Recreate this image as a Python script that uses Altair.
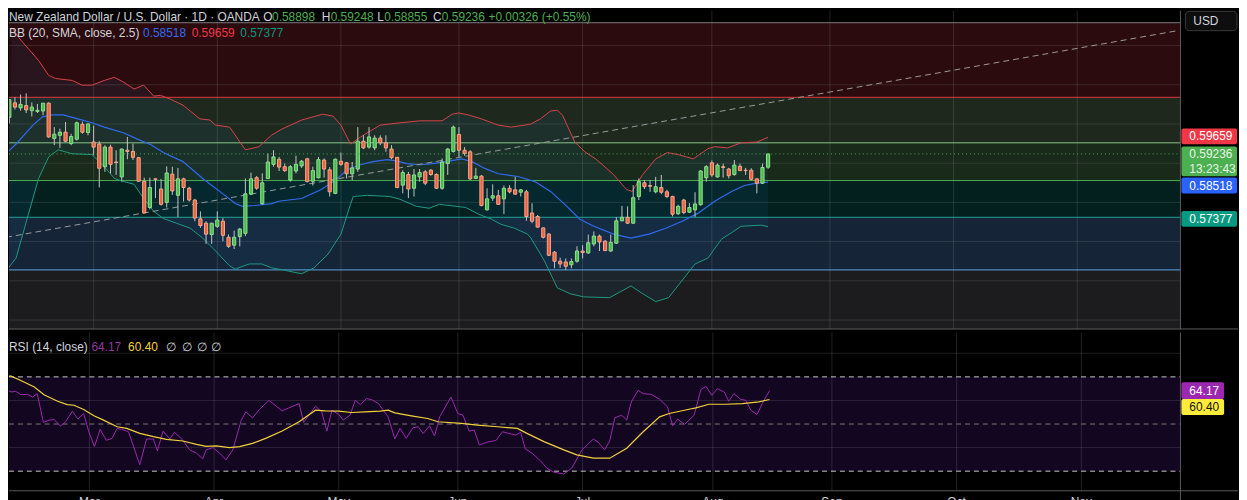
import altair as alt
import pandas as pd

# ---------------- values ----------------
opens = [0.6017,0.6054,0.6041,0.6047,0.6034,0.6032,0.6033,0.6053,0.5963,0.5971,
         0.5979,0.5950,0.5961,0.5999,0.5978,0.5954,0.5949,0.5891,0.5941,0.5903,
         0.5865,0.5933,0.5930,0.5914,0.5854,0.5787,0.5860,0.5834,0.5800,0.5872,
         0.5818,0.5860,0.5836,0.5806,0.5758,0.5747,0.5718,0.5739,0.5752,0.5711,
         0.5691,0.5713,0.5721,0.5821,0.5863,0.5797,0.5861,0.5897,0.5910,0.5891,
         0.5857,0.5880,0.5893,0.5911,0.5854,0.5863,0.5908,0.5883,0.5823,0.5905,
         0.5901,0.5873,0.5885,0.5956,0.5941,0.5939,0.5964,0.5952,0.5936,0.5915,
         0.5844,0.5871,0.5836,0.5865,0.5878,0.5882,0.5871,0.5836,0.5899,0.5930,
         0.5973,0.5933,0.5929,0.5861,0.5867,0.5781,0.5811,0.5817,0.5809,0.5836,
         0.5832,0.5826,0.5827,0.5773,0.5764,0.5735,0.5719,0.5673,0.5650,0.5648,
         0.5641,0.5650,0.5676,0.5671,0.5694,0.5714,0.5701,0.5676,0.5696,0.5753,
         0.5762,0.5747,0.5815,0.5850,0.5843,0.5827,0.5838,0.5827,0.5815,0.5771,
         0.5806,0.5775,0.5781,0.5794,0.5863,0.5901,0.5865,0.5891,0.5885,0.5871,
         0.5892,0.5882,0.5882,0.5860,0.5849,0.58898]
highs = [0.6062,0.6068,0.6075,0.6078,0.6055,0.6051,0.6053,0.6055,0.5992,0.5988,
         0.6005,0.5975,0.6006,0.6006,0.6002,0.5996,0.5956,0.5946,0.5947,0.5933,
         0.5937,0.5967,0.5950,0.5916,0.5863,0.5863,0.5861,0.5860,0.5892,0.5891,
         0.5888,0.5863,0.5840,0.5809,0.5777,0.5752,0.5747,0.5777,0.5760,0.5718,
         0.5728,0.5735,0.5861,0.5876,0.5867,0.5874,0.5925,0.5933,0.5916,0.5899,
         0.5895,0.5919,0.5908,0.5914,0.5891,0.5916,0.5912,0.5890,0.5912,0.5927,
         0.5903,0.5903,0.5992,0.5971,0.5992,0.5971,0.5971,0.5971,0.5946,0.5916,
         0.5882,0.5878,0.5885,0.5885,0.5882,0.5885,0.5874,0.5912,0.5939,0.5996,
         0.5992,0.5941,0.5933,0.5888,0.5870,0.5836,0.5846,0.5832,0.5843,0.5844,
         0.5865,0.5834,0.5832,0.5798,0.5768,0.5736,0.5722,0.5676,0.5659,0.5657,
         0.5657,0.5688,0.5691,0.5718,0.5726,0.5718,0.5704,0.5718,0.5762,0.5791,
         0.5790,0.5844,0.5861,0.5857,0.5857,0.5865,0.5870,0.5832,0.5817,0.5794,
         0.5809,0.5798,0.5826,0.5882,0.5895,0.5907,0.5899,0.5899,0.5888,0.5908,
         0.5899,0.5888,0.5887,0.5861,0.5899,0.59248]
lows = [0.6001,0.6037,0.6034,0.6028,0.6019,0.6028,0.6022,0.5965,0.5946,0.5939,
        0.5954,0.5946,0.5958,0.5975,0.5971,0.5920,0.5838,0.5878,0.5874,0.5870,
        0.5853,0.5910,0.5908,0.5853,0.5772,0.5782,0.5811,0.5792,0.5787,0.5819,
        0.5762,0.5802,0.5802,0.5752,0.5735,0.5694,0.5694,0.5735,0.5701,0.5684,
        0.5681,0.5688,0.5714,0.5819,0.5832,0.5794,0.5860,0.5891,0.5880,0.5878,
        0.5853,0.5874,0.5888,0.5851,0.5843,0.5861,0.5863,0.5815,0.5821,0.5893,
        0.5861,0.5857,0.5878,0.5936,0.5937,0.5933,0.5946,0.5929,0.5910,0.5836,
        0.5823,0.5811,0.5815,0.5853,0.5844,0.5868,0.5834,0.5832,0.5870,0.5927,
        0.5916,0.5919,0.5857,0.5860,0.5790,0.5779,0.5804,0.5794,0.5770,0.5823,
        0.5819,0.5815,0.5753,0.5747,0.5735,0.5708,0.5663,0.5632,0.5633,0.5628,
        0.5632,0.5646,0.5657,0.5669,0.5688,0.5676,0.5676,0.5674,0.5694,0.5752,
        0.5745,0.5746,0.5806,0.5834,0.5827,0.5823,0.5821,0.5811,0.5764,0.5768,
        0.5770,0.5773,0.5763,0.5792,0.5853,0.5865,0.5863,0.5863,0.5861,0.5868,
        0.5880,0.5870,0.5856,0.5823,0.5847,0.58855]
closes = [0.6062,0.6043,0.6050,0.6036,0.6043,0.6035,0.6053,0.5967,0.5974,0.5979,
          0.5956,0.5968,0.6003,0.5979,0.6000,0.5941,0.5887,0.5941,0.5897,0.5902,
          0.5936,0.5930,0.5915,0.5854,0.5773,0.5838,0.5859,0.5795,0.5875,0.5829,
          0.5860,0.5838,0.5806,0.5760,0.5741,0.5719,0.5747,0.5755,0.5716,0.5688,
          0.5711,0.5732,0.5822,0.5860,0.5836,0.5850,0.5903,0.5916,0.5890,0.5881,
          0.5891,0.5897,0.5905,0.5853,0.5881,0.5909,0.5885,0.5827,0.5910,0.5897,
          0.5873,0.5888,0.5956,0.5939,0.5967,0.5964,0.5952,0.5939,0.5914,0.5838,
          0.5876,0.5834,0.5870,0.5876,0.5849,0.5871,0.5836,0.5903,0.5936,0.5992,
          0.5933,0.5925,0.5860,0.5867,0.5792,0.5809,0.5817,0.5795,0.5836,0.5827,
          0.5821,0.5832,0.5764,0.5752,0.5737,0.5711,0.5665,0.5650,0.5643,0.5637,
          0.5649,0.5676,0.5672,0.5697,0.5714,0.5699,0.5677,0.5698,0.5753,0.5762,
          0.5747,0.5812,0.5853,0.5840,0.5841,0.5840,0.5826,0.5815,0.5770,0.5790,
          0.5774,0.5787,0.5796,0.5880,0.5891,0.5870,0.5895,0.5889,0.5868,0.5895,
          0.5881,0.5881,0.5859,0.5849,0.5889,0.59236]

bb_upper = [(0.5,0.6245),(1.7,0.6220),(2.4,0.6208),(5.2,0.6162),(7.0,0.6124),(8.2,0.6116),(11.2,0.6111),
            (12.9,0.6099),(14.7,0.6099),(16.9,0.6111),(18.7,0.6119),(20.4,0.6106),(22.2,0.6089),
            (23.9,0.6099),(25.7,0.6071),(26.9,0.6073),(28.7,0.6063),(30.9,0.6048),(33.9,0.6013),
            (35.7,0.6010),(36.7,0.5997),(39.2,0.5992),(42.0,0.5934),(44.4,0.5942),(46.7,0.5972),
            (48.5,0.5987),(52.0,0.6010),(55.8,0.6025),(57.6,0.6020),(59.0,0.5997),(60.7,0.5949),
            (62.5,0.5967),(64.2,0.5982),(66.0,0.5997),(69.5,0.6003),(73.0,0.6008),(77.0,0.6008),
            (78.8,0.6025),(80.0,0.6028),(81.7,0.6023),(84.0,0.6013),(87.0,0.5997),(89.3,0.5992),
            (91.7,0.5997),(92.8,0.6000),(94.5,0.6013),(96.3,0.6033),(97.5,0.6035),(98.4,0.6023),
            (100.6,0.5954),(102.4,0.5929),(104.5,0.5909),(107.5,0.5871),(109.8,0.5833),(110.8,0.5828),
            (112.7,0.5871),(115.0,0.5911),(117.1,0.5927),(119.0,0.5922),(121.7,0.5911),(124.3,0.5937),
            (125.5,0.5942),(127.8,0.5939),(130.2,0.5952),(133.0,0.5954),(135.0,0.59659)]
bb_basis = [(-0.6,0.5924),(1.2,0.5949),(4.2,0.5997),(5.9,0.6018),(7.7,0.6023),(9.6,0.6023),(12.2,0.6013),
            (14.7,0.6003),(16.9,0.5992),(20.4,0.5977),(22.7,0.5962),(25.2,0.5947),(27.4,0.5927),
            (30.9,0.5904),(34.4,0.5861),(37.9,0.5823),(40.2,0.5797),(41.5,0.5790),(43.7,0.5792),
            (46.7,0.5797),(47.9,0.5803),(52.0,0.5810),(55.5,0.5833),(57.7,0.5853),(60.2,0.5884),
            (62.5,0.5896),(64.7,0.5904),(67.2,0.5909),(68.9,0.5906),(70.7,0.5899),(73.0,0.5896),
            (75.3,0.5899),(77.7,0.5904),(80.5,0.5911),(82.3,0.5904),(84.7,0.5886),(87.0,0.5873),
            (90.5,0.5866),(93.5,0.5853),(96.3,0.5828),(99.2,0.5790),(101.5,0.5757),(104.0,0.5739),
            (107.5,0.5719),(110.6,0.5709),(113.8,0.5719),(116.8,0.5734),(119.7,0.5752),(122.5,0.5772),
            (125.5,0.5803),(128.5,0.5828),(130.8,0.5843),(132.5,0.5848),(135.0,0.58518)]
bb_lower = [(-0.6,0.5625),(1.2,0.5658),(3.4,0.5770),(5.2,0.5861),(7.0,0.5916),(8.7,0.5934),(11.2,0.5924),
            (14.7,0.5922),(16.9,0.5891),(18.7,0.5861),(20.4,0.5853),(22.2,0.5846),(23.9,0.5810),
            (25.7,0.5777),(27.4,0.5759),(29.7,0.5747),(32.2,0.5734),(34.4,0.5709),(36.7,0.5676),
            (39.2,0.5638),(40.2,0.5630),(42.7,0.5643),(44.9,0.5643),(46.7,0.5633),(47.9,0.5630),
            (52.0,0.5618),(54.2,0.5633),(56.7,0.5668),(59.0,0.5719),(60.7,0.5795),(61.2,0.5815),
            (63.7,0.5818),(67.7,0.5815),(69.5,0.5808),(72.4,0.5790),(74.7,0.5785),(76.5,0.5795),
            (79.5,0.5790),(81.2,0.5787),(83.5,0.5770),(85.8,0.5757),(87.5,0.5744),(89.9,0.5734),
            (92.2,0.5719),(92.8,0.5709),(95.2,0.5651),(97.5,0.5582),(99.8,0.5567),(102.2,0.5559),
            (106.8,0.5557),(110.6,0.5587),(112.7,0.5567),(115.0,0.5547),(117.3,0.5557),(122.0,0.5643),
            (124.3,0.5658),(126.7,0.5706),(130.2,0.5739),(133.8,0.5742),(135.0,0.57377)]

rsi_line = [(-0.6,64.98),(0,65.26),(1.2,63.58),(2,63.86),(2.9,62.45),(4.1,62.6),(5,61.47),(5.8,62.9),
            (6.9,50.67),(7.9,51.65),(8.8,51.93),(9.9,49.12),(10.8,50.95),(12,55.44),(13,52.07),
            (14,54.45),(14.9,46.74),(15.9,40.42),(16.9,47.72),(18,43.09),(19,43.93),(19.9,48.14),
            (20.7,47.72),(21.9,46.74),(23.9,32.7),(25.1,43.65),(26.3,43.65),(27,38.6),(28,47.0),
            (29.2,43.65),(30,46.45),(31.2,43.93),(32.7,39.02),(33.9,37.61),(35,35.23),(35.6,39.02),
            (36.8,40.0),(38,37.61),(39.1,34.8),(40.3,39.02),(41.8,51.65),(42.6,55.16),(43.8,52.63),
            (45,56.14),(46.7,60.07),(47.9,57.68),(49,55.58),(50.2,56.84),(52,58.67),(52.8,50.67),
            (54.9,57.54),(56,55.16),(56.9,47.0),(57.8,55.86),(59,54.03),(59.8,51.65),(61,53.75),
            (61.9,60.07),(62.8,58.24),(63.9,60.77),(64.8,60.35),(66,58.67),(67.7,53.05),(68.9,43.65),
            (69.8,48.14),(70.9,43.93),(72.1,48.42),(73,48.84),(73.9,46.0),(75,49.26),(75.9,44.91),
            (76.8,53.05),(78.8,61.47),(80,54.45),(80.9,53.75),(82,47.0),(82.9,47.44),(83.8,41.12),
            (85.5,42.53),(86.7,42.95),(87.9,46.74),(89,46.0),(90.2,45.33),(91.1,46.45),(91.9,39.44),
            (93.1,37.61),(94.6,34.39),(95.7,31.3),(96.9,29.61),(98.7,28.77),(100.1,31.3),(101.9,39.02),
            (103.9,43.65),(104.8,42.25),(105.9,39.02),(106.8,42.81),(107.7,52.63),(108.9,53.75),
            (109.8,51.65),(110.6,59.37),(111.8,64.28),(112.7,62.88),(114.1,62.6),(115.6,60.49),
            (117,57.26),(117.9,49.26),(118.8,52.07),(120,49.82),(121.7,53.75),(122.9,64.7),
            (123.8,65.96),(124.8,62.18),(125.8,64.98),(127,63.58),(127.8,59.65),(128.7,62.88),
            (129.9,60.49),(130.8,60.07),(131.7,55.86),(132.8,54.03),(133.7,58.67),(135,64.17)]
rsi_ma = [(-0.6,70.31),(1.2,70.31),(2.9,68.49),(5.3,65.68),(7,62.45),(9.4,59.65),(11.1,58.24),
          (12.3,57.96),(14,56.14),(15.8,53.47),(17.5,51.65),(19.9,48.84),(21.6,48.14),(23.9,46.03),
          (26.3,44.63),(28.6,43.51),(31.5,42.81),(33.9,41.4),(35.6,40.56),(37.4,40.7),(39.7,40.0),
          (41.5,40.42),(43.8,41.82),(46.1,43.93),(49,47.02),(52,50.95),(54.9,55.86),(56.6,55.58),
          (59,55.44),(61.3,54.88),(63.6,55.16),(66.3,55.5),(67.7,55.86),(68.9,54.74),(71.8,53.47),
          (74.7,52.35),(76.5,50.95),(80.6,50.25),(83.5,49.54),(87,48.84),(90.5,48.14),(92.2,46.03),
          (95.2,42.53),(98.7,39.02),(101,36.91),(103.9,35.51),(106.8,35.51),(109.8,39.72),
          (112.7,46.74),(115.6,53.05),(117.3,54.45),(120.8,56.28),(122,56.84),(124.3,58.39),
          (127.3,58.39),(130.2,58.67),(133.1,59.37),(135,60.4)]

trend_line = [(-0.58, 0.5711), (207.5, 0.6237)]
zone_edges = [0.62582, 0.6068, 0.59519, 0.58557, 0.5762, 0.56278]
price_grid = [0.62, 0.61, 0.60, 0.59, 0.58, 0.57, 0.56, 0.55]
price_labels = [0.62, 0.61, 0.60, 0.58, 0.57, 0.56, 0.55]
month_idx = [15, 37, 59, 80, 102, 125, 146, 168, 190]
month_names = ["Mar", "Apr", "May", "Jun", "Jul", "Aug", "Sep", "Oct", "Nov"]
rsi_grid = [80, 60, 40]
rsi_axis_labels = [80, 40]
rsi_levels = [70, 50, 30]

last_ohlc = [0.58898, 0.59248, 0.58855, 0.59236]
last_change = "+0.00326 (+0.55%)"
countdown = "13:23:43"
bb_last = [0.58518, 0.59659, 0.57377]   # basis, upper, lower
rsi_last = [64.17, 60.40]

# ---------------- layout & style ----------------
FONT = "Liberation Sans"
W, H1, H2 = 1180, 321, 170
X_DOM = [0.823, 207.48]
P_DOM = [0.547595, 0.628861]
R_DOM = [17.263, 88.842]
TXT = "#d1d4dc"
GREEN = "#4caf50"
LINE = "#5a5a5a"

xs = alt.Scale(domain=X_DOM, nice=False, zero=False)
ps = alt.Scale(domain=P_DOM, nice=False, zero=False)
rs = alt.Scale(domain=R_DOM, nice=False, zero=False)


def X(f):
    return alt.X(f"{f}:Q", scale=xs, axis=None)


def YP(f, axis=None):
    return alt.Y(f"{f}:Q", scale=ps, axis=axis)


def YR(f, axis=None):
    return alt.Y(f"{f}:Q", scale=rs, axis=axis)


def pairs_df(p):
    return pd.DataFrame({"i": [a for a, _ in p], "v": [b for _, b in p]})


def text_layer(x, y, s, color, size=12):
    return alt.Chart(pd.DataFrame({"s": [s]})).mark_text(
        align="left", baseline="middle", color=color, fontSize=size, font=FONT
    ).encode(x=alt.value(x), y=alt.value(y), text="s:N")


def tag(yfn, value, lines, bg, fg, shift, top, bottom, width):
    df = pd.DataFrame({"v": [value]})
    layers = [alt.Chart(df).mark_rect(color=bg, cornerRadius=2, yOffset=shift - top,
                                      y2Offset=shift + bottom).encode(
        x=alt.value(W + 1), x2=alt.value(W + 1 + width), y=yfn("v"), y2=alt.Y2("v:Q"))]
    for k, s in enumerate(lines):
        layers.append(alt.Chart(pd.DataFrame({"v": [value], "s": [s]})).mark_text(
            align="left", baseline="middle", color=fg, fontSize=12, font=FONT,
            dy=shift + 14.5 * k).encode(x=alt.value(W + 9), y=yfn("v"), text="s:N"))
    return layers


# ---------------- price pane ----------------
cdf = pd.DataFrame({"i": list(range(len(opens))), "o": opens, "h": highs,
                    "l": lows, "c": closes})
cdf["dir"] = ["up" if c >= o else "down" for o, c in zip(opens, closes)]

zone_cols = ["#2b0b0e", "#1e281d", "#19291a", "#03201f", "#152436", "#1c1c1e"]
zdf = pd.DataFrame({"hi": zone_edges, "lo": zone_edges[1:] + [P_DOM[0]], "col": zone_cols})
zones = alt.Chart(zdf).mark_rect().encode(
    x=alt.value(0), x2=alt.value(W), y=YP("hi"), y2=alt.Y2("lo:Q"),
    color=alt.Color("col:N", scale=None))

fill_pts = bb_upper + list(reversed(bb_lower))
fdf = pd.DataFrame({"k": list(range(len(fill_pts))), "i": [a for a, _ in fill_pts],
                    "v": [b for _, b in fill_pts]})
bb_fill = alt.Chart(fdf).mark_line(filled=True, color="#2196f3", opacity=0.07,
                                   clip=True, strokeWidth=0).encode(
    x=X("i"), y=YP("v"), order=alt.Order("k:Q"))

grid_h = alt.Chart(pd.DataFrame({"t": price_grid})).mark_rule(
    color="#9a9a9a", opacity=0.2).encode(
    x=alt.value(0), x2=alt.value(W),
    y=YP("t", axis=alt.Axis(orient="right", values=price_labels, format=".5f", grid=False,
                            domain=False, ticks=False, labelPadding=9, labelColor=TXT,
                            labelFontSize=12, labelFont=FONT, title=None)))
grid_v = alt.Chart(pd.DataFrame({"m": month_idx})).mark_rule(
    color="#9a9a9a", opacity=0.22).encode(x=X("m"), y=alt.value(0), y2=alt.value(H1))

zl_cols = ["#7a7a7a", "#e03a3e", "#8bc98b", "#4caf50", "#22a39a", "#5aa6e8"]
zlines = alt.Chart(pd.DataFrame({"v": zone_edges, "col": zl_cols})).mark_rule(
    strokeWidth=1).encode(x=alt.value(0), x2=alt.value(W), y=YP("v"),
                          color=alt.Color("col:N", scale=None))

bb_u = alt.Chart(pairs_df(bb_upper)).mark_line(color="#d9444a", strokeWidth=1, clip=True).encode(
    x=X("i"), y=YP("v"))
bb_m = alt.Chart(pairs_df(bb_basis)).mark_line(color="#2f6bf0", strokeWidth=1.2, clip=True).encode(
    x=X("i"), y=YP("v"))
bb_l = alt.Chart(pairs_df(bb_lower)).mark_line(color="#1f9a82", strokeWidth=1, clip=True).encode(
    x=X("i"), y=YP("v"))
trend = alt.Chart(pairs_df(trend_line)).mark_line(color="#9a9a9a", strokeDash=[6, 4],
                                                  strokeWidth=1, clip=True).encode(
    x=X("i"), y=YP("v"))

wicks = alt.Chart(cdf).mark_rule(color="#c4c4c4", strokeWidth=1, clip=True).encode(
    x=X("i"), y=YP("l"), y2=alt.Y2("h:Q"))
bodies = alt.Chart(cdf).mark_bar(size=3.2, strokeWidth=1, clip=True).encode(
    x=X("i"), y=YP("o"), y2=alt.Y2("c:Q"),
    fill=alt.Fill("dir:N", scale=alt.Scale(domain=["up", "down"], range=["#4cbb50", "#ee6440"]),
                  legend=None),
    stroke=alt.Stroke("dir:N", scale=alt.Scale(domain=["up", "down"], range=["#8fe08f", "#f7a58c"]),
                      legend=None))

close_line = alt.Chart(pd.DataFrame({"v": [last_ohlc[3]]})).mark_rule(
    color=GREEN, strokeDash=[1, 3]).encode(x=alt.value(0), x2=alt.value(W), y=YP("v"))

sep_right1 = alt.Chart(pd.DataFrame({"a": [0]})).mark_rule(color=LINE).encode(
    x=alt.value(W), y=alt.value(0), y2=alt.value(H1))
sep_bottom1 = alt.Chart(pd.DataFrame({"a": [0]})).mark_rule(color=LINE).encode(
    x=alt.value(0), x2=alt.value(W + 58), y=alt.value(H1 - 0.5))
usd_box = alt.Chart(pd.DataFrame({"a": [0]})).mark_rect(
    fill="#0e0e0e", stroke="#3a3a3a", cornerRadius=4).encode(
    x=alt.value(W + 5), x2=alt.value(W + 57), y=alt.value(0.5), y2=alt.value(20))

head = [
    text_layer(0, 6, "New Zealand Dollar / U.S. Dollar · 1D · OANDA", TXT),
    text_layer(256, 6, "O", TXT), text_layer(265, 6, f"{last_ohlc[0]:.5f}", GREEN),
    text_layer(315, 6, "H", TXT), text_layer(324, 6, f"{last_ohlc[1]:.5f}", GREEN),
    text_layer(371, 6, "L", TXT), text_layer(378, 6, f"{last_ohlc[2]:.5f}", GREEN),
    text_layer(427, 6, "C", TXT), text_layer(436, 6, f"{last_ohlc[3]:.5f}", GREEN),
    text_layer(483, 6, last_change, GREEN),
    text_layer(0, 22, "BB (20, SMA, close, 2.5)", TXT),
    text_layer(135, 22, f"{bb_last[0]:.5f}", "#2f6bf0"),
    text_layer(184, 22, f"{bb_last[1]:.5f}", "#f23645"),
    text_layer(233, 22, f"{bb_last[2]:.5f}", "#089981"),
    text_layer(W + 13, 10, "USD", TXT),
]

tags1 = (tag(YP, bb_last[1], [f"{bb_last[1]:.5f}"], "#f23645", "#ffffff", -1, 8, 8, 56)
         + tag(YP, last_ohlc[3], [f"{last_ohlc[3]:.5f}", countdown], GREEN, "#e8f5e9", 0.5, 8, 22, 56)
         + tag(YP, bb_last[0], [f"{bb_last[0]:.5f}"], "#2962ff", "#ffffff", 3.5, 8, 8, 56)
         + tag(YP, bb_last[2], [f"{bb_last[2]:.5f}"], "#089981", "#ffffff", -8, 8, 8, 56))

price = alt.layer(zones, bb_fill, grid_h, grid_v, zlines, bb_u, bb_m, bb_l, trend,
                  wicks, bodies, close_line, sep_right1, sep_bottom1, usd_box,
                  *head, *tags1).properties(width=W, height=H1)

# ---------------- RSI pane ----------------
band = alt.Chart(pd.DataFrame({"hi": [rsi_levels[0]], "lo": [rsi_levels[2]]})).mark_rect(
    color="#130620").encode(x=alt.value(0), x2=alt.value(W), y=YR("hi"), y2=alt.Y2("lo:Q"))
rgrid = alt.Chart(pd.DataFrame({"t": rsi_grid})).mark_rule(color="#9a9a9a", opacity=0.2).encode(
    x=alt.value(0), x2=alt.value(W),
    y=YR("t", axis=alt.Axis(orient="right", values=rsi_axis_labels, format=".2f", grid=False,
                            domain=False, ticks=False, labelPadding=9, labelColor=TXT,
                            labelFontSize=12, labelFont=FONT, title=None)))
rgrid_v = alt.Chart(pd.DataFrame({"m": month_idx})).mark_rule(color="#9a9a9a", opacity=0.22).encode(
    x=X("m"), y=alt.value(0), y2=alt.value(159))
lvl_df = pd.DataFrame({"v": rsi_levels, "col": ["#c8c8c8", "#7a7a7a", "#c8c8c8"]})
levels = alt.Chart(lvl_df).mark_rule(strokeDash=[5, 4], strokeWidth=1).encode(
    x=alt.value(0), x2=alt.value(W), y=YR("v"), color=alt.Color("col:N", scale=None))
rsi_l = alt.Chart(pairs_df(rsi_line)).mark_line(color="#9c27b0", strokeWidth=1, clip=True).encode(
    x=X("i"), y=YR("v"))
rsi_m = alt.Chart(pairs_df(rsi_ma)).mark_line(color="#f2d03b", strokeWidth=1.2, clip=True).encode(
    x=X("i"), y=YR("v"))
sep_right2 = alt.Chart(pd.DataFrame({"a": [0]})).mark_rule(color=LINE).encode(
    x=alt.value(W), y=alt.value(0), y2=alt.value(H2))
sep_bottom2 = alt.Chart(pd.DataFrame({"a": [0]})).mark_rule(color=LINE).encode(
    x=alt.value(0), x2=alt.value(W + 58), y=alt.value(159.5))
months = alt.Chart(pd.DataFrame({"m": month_idx, "name": month_names})).mark_text(
    align="center", baseline="top", color=TXT, fontSize=12, font=FONT, clip=True).encode(
    x=X("m"), y=alt.value(166), text="name:N")

rhead = [text_layer(0, 15, "RSI (14, close)", TXT),
         text_layer(83, 15, f"{rsi_last[0]:.2f}", "#8e3a9e"),
         text_layer(120, 15, f"{rsi_last[1]:.2f}", "#f2d03b")]
for xx in [158, 174, 189, 203]:
    rhead.append(text_layer(xx, 15, "∅", TXT))

tags2 = (tag(YR, rsi_last[0], [f"{rsi_last[0]:.2f}"], "#9c27b0", "#ffffff", 0, 8.5, 8.5, 43)
         + tag(YR, rsi_last[1], [f"{rsi_last[1]:.2f}"], "#ffeb3b", "#131313", 7.5, 8, 8, 43))

rsi = alt.layer(band, rgrid, rgrid_v, levels, rsi_l, rsi_m, sep_right2, sep_bottom2, months,
                *rhead, *tags2).properties(width=W, height=H2)

chart = alt.vconcat(price, rsi, spacing=1).properties(
    padding=0, background="#000000").configure_view(stroke=None)

chart.save("out.html", embed_options={"renderer": "svg", "actions": False})
